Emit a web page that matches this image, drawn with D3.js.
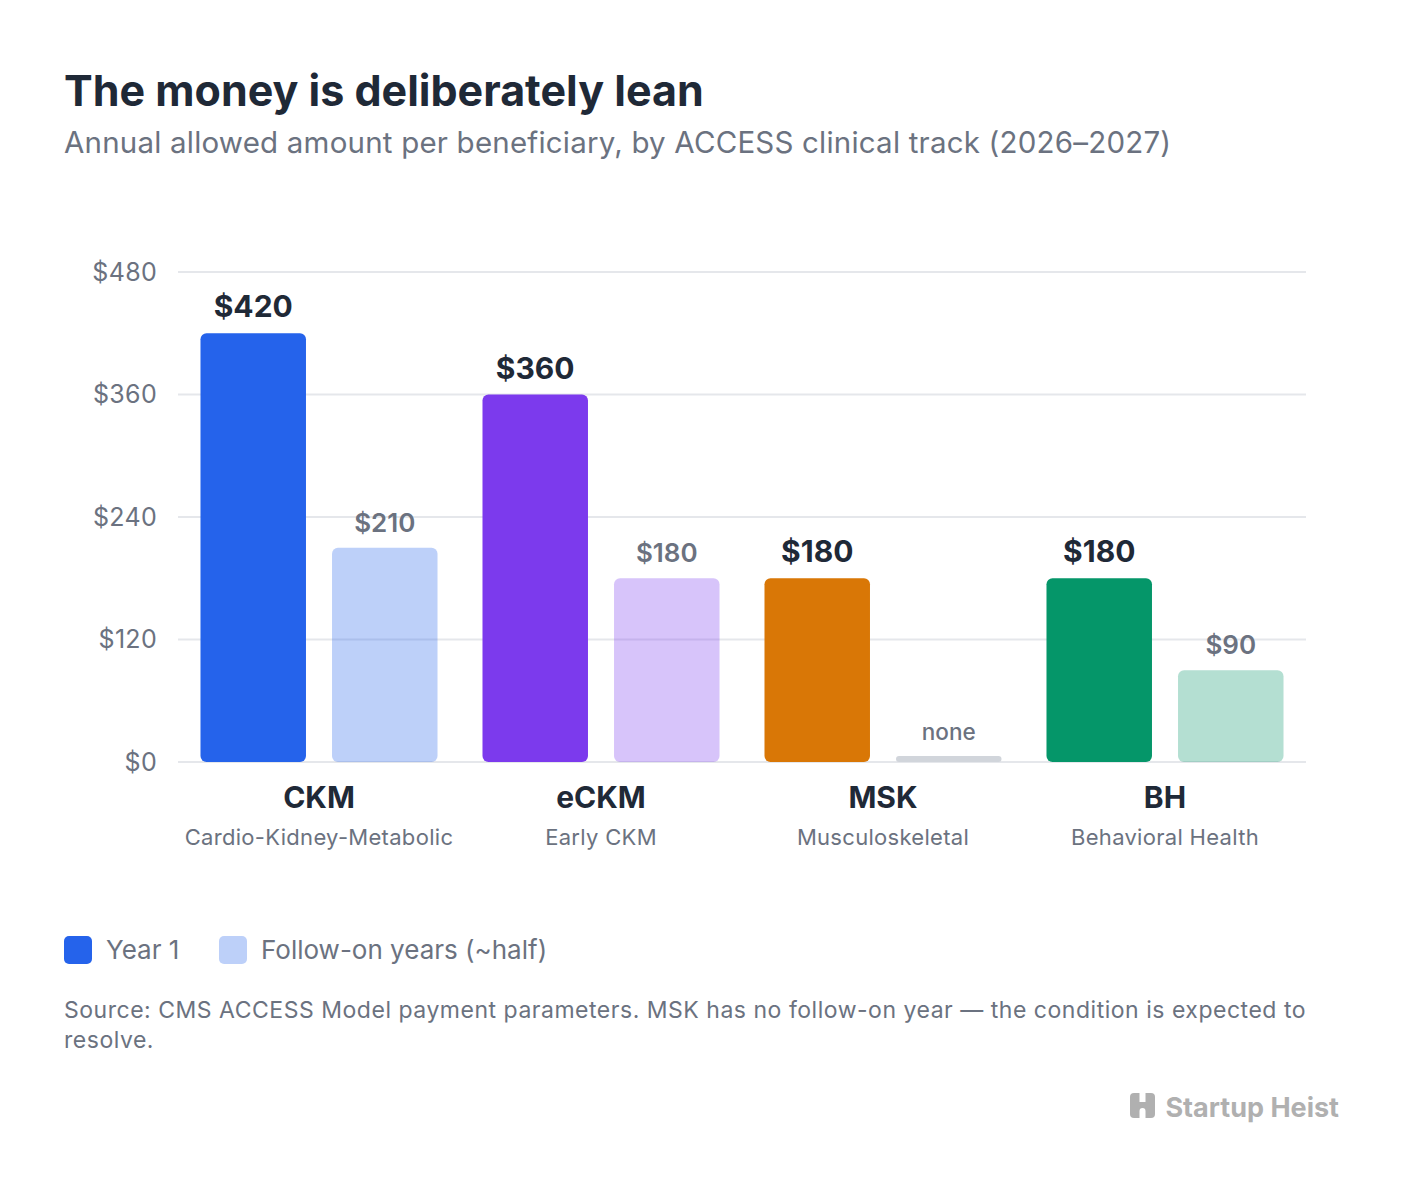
<!DOCTYPE html>
<html><head><meta charset="utf-8">
<script src="https://cdn.jsdelivr.net/npm/d3@7"></script>
<style>
html,body{margin:0;padding:0;background:#fff;}
svg{display:block;font-family:Inter,"Noto Sans",sans-serif;}
</style></head>
<body>
<svg id="c" width="1408" height="1190"></svg>
<script>
const categories = ["CKM","eCKM","MSK","BH"];
const categoryNames = ["Cardio-Kidney-Metabolic","Early CKM","Musculoskeletal","Behavioral Health"];
const year1 = [420,360,180,180];
const followOn = [210,180,null,90];
const trackColors = ["#2563eb","#7c3aed","#d97706","#059669"];
const yTicks = [0,120,240,360,480];
const seriesNames = ["Year 1","Follow-on years (~half)"];

(function(){
const svg = d3.select("#c");
const dark = "#1f2937", gray = "#6b7280";

// title
svg.append("text").attr("x",64).attr("y",106).attr("font-size",43).attr("font-weight",700)
  .attr("fill",dark).text("The money is deliberately lean");
svg.append("text").attr("x",64).attr("y",153).attr("font-size",29.5).attr("letter-spacing",0.2).attr("fill",gray)
  .text("Annual allowed amount per beneficiary, by ACCESS clinical track (2026–2027)");

const pl = 178, pr = 1306, pt = 272, pb = 762;
const y = d3.scaleLinear().domain([0,480]).range([pb, pt]);
const x0 = d3.scaleBand().domain(categories).range([pl,pr]).padding(0);
const x1 = d3.scaleBand().domain(["y1","fo"]).range([0,x0.bandwidth()]).paddingInner(0.198).paddingOuter(0.171);

// grid
const g = svg.append("g");
g.selectAll("line.grid").data(yTicks).join("line")
  .attr("x1",pl).attr("x2",pr).attr("y1",d=>y(d)).attr("y2",d=>y(d))
  .attr("stroke","#e5e7eb").attr("stroke-width",2);
g.selectAll("text.yt").data(yTicks).join("text")
  .attr("x",157).attr("y",d=>y(d)).attr("dy","0.35em").attr("text-anchor","end")
  .attr("font-size",25).attr("letter-spacing",0.3).attr("fill",gray).text(d=>"$"+d);

// bars
categories.forEach((c,i)=>{
  const gx = x0(c);
  const bx1 = gx + x1("y1"), bx2 = gx + x1("fo"), bw = x1.bandwidth();
  svg.append("rect").attr("x",bx1).attr("y",y(year1[i])).attr("width",bw)
    .attr("height",y(0)-y(year1[i])).attr("rx",6).attr("fill",trackColors[i]);
  svg.append("text").attr("x",bx1+bw/2).attr("y",y(year1[i])-16).attr("text-anchor","middle")
    .attr("font-size",30).attr("font-weight",700).attr("fill",dark).text("$"+year1[i]);
  if (followOn[i] != null) {
    svg.append("rect").attr("x",bx2).attr("y",y(followOn[i])).attr("width",bw)
      .attr("height",y(0)-y(followOn[i])).attr("rx",6).attr("fill",trackColors[i]).attr("fill-opacity",0.3);
    svg.append("text").attr("x",bx2+bw/2).attr("y",y(followOn[i])-16).attr("text-anchor","middle")
      .attr("font-size",26).attr("font-weight",600).attr("fill",gray).text("$"+followOn[i]);
  } else {
    svg.append("rect").attr("x",bx2).attr("y",y(0)-6).attr("width",bw)
      .attr("height",6).attr("rx",3).attr("fill","#d1d5db");
    svg.append("text").attr("x",bx2+bw/2).attr("y",y(0)-22).attr("text-anchor","middle")
      .attr("font-size",22.5).attr("font-weight",500).attr("fill",gray).text("none");
  }
  const cx = gx + x0.bandwidth()/2;
  svg.append("text").attr("x",cx).attr("y",808).attr("text-anchor","middle")
    .attr("font-size",30).attr("font-weight",700).attr("fill",dark).text(c);
  svg.append("text").attr("x",cx).attr("y",845).attr("text-anchor","middle")
    .attr("font-size",22).attr("letter-spacing",0.3).attr("fill",gray).text(categoryNames[i]);
});

// legend
const legendX = [64,219];
seriesNames.forEach((s,i)=>{
  svg.append("rect").attr("x",legendX[i]).attr("y",936).attr("width",28).attr("height",28).attr("rx",5)
    .attr("fill",trackColors[0]).attr("fill-opacity",i===0?1:0.3);
  svg.append("text").attr("x",legendX[i]+42).attr("y",959).attr("font-size",26).attr("fill",gray).text(s);
});

// source
svg.append("text").attr("x",64).attr("y",1018).attr("font-size",23).attr("letter-spacing",0.52).attr("fill",gray)
  .text("Source: CMS ACCESS Model payment parameters. MSK has no follow-on year — the condition is expected to");
svg.append("text").attr("x",64).attr("y",1048).attr("font-size",23).attr("letter-spacing",0.52).attr("fill",gray).text("resolve.");

// logo
const lg = svg.append("g").attr("transform","translate(1130,1093)");
lg.append("rect").attr("width",25).attr("height",25).attr("rx",4).attr("fill","#b0b0b0");
lg.append("rect").attr("x",9.5).attr("y",0).attr("width",6).attr("height",9).attr("fill","#fff");
lg.append("path").attr("d","M9.5,25 L9.5,18 A3,3 0 0 1 15.5,18 L15.5,25 Z").attr("fill","#fff");
svg.append("text").attr("x",1339).attr("y",1117).attr("text-anchor","end").attr("font-size",27)
  .attr("font-weight",700).attr("fill","#b0b0b0").text("Startup Heist");
})();
</script>
</body></html>
